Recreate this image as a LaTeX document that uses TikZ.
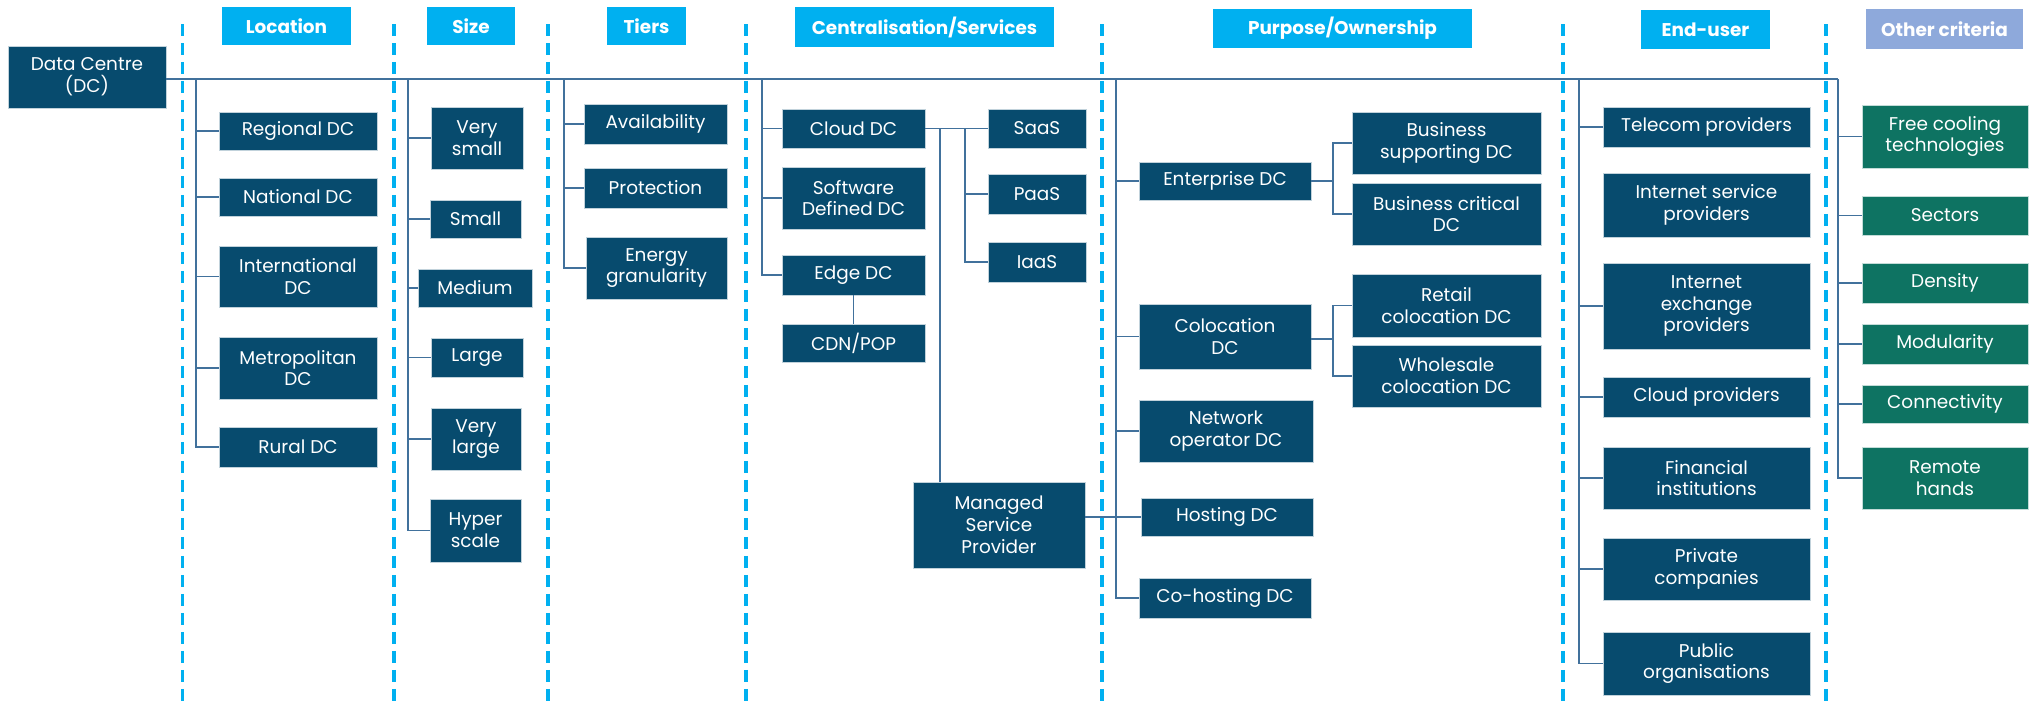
\documentclass[tikz,border=0pt]{standalone}
\usepackage{fontspec}
\setmainfont{Poppins}
\usepackage{tikz}
\usetikzlibrary{positioning}
\usetikzlibrary{calc}
\definecolor{dcblue}{HTML}{074B6E}
\definecolor{dcgreen}{HTML}{0E7362}
\definecolor{hdrblue}{HTML}{00B0F0}
\definecolor{hdrlilac}{HTML}{8EA9DB}
\definecolor{linkcol}{HTML}{41719C}
\tikzstyle{box}=[rectangle,fill=dcblue,draw=white!75!dcblue,line width=0.4pt,text=white,align=center,inner sep=0pt,font=\fontsize{10.5}{12.4}\selectfont]
\tikzstyle{greenbox}=[box,fill=dcgreen,draw=white!75!dcgreen]
\tikzstyle{hdr}=[rectangle,fill=hdrblue,text=white,inner sep=0pt,font=\fontsize{10.5}{12.4}\selectfont\bfseries]
\tikzstyle{link}=[draw=linkcol,line width=0.8pt]
\tikzstyle{divider}=[draw=hdrblue,line width=2.2pt,dash pattern=on 0.24cm off 0.14cm]

\begin{document}
\begin{tikzpicture}[x=0.02cm,y=-0.02cm]

 \def\u{0.02cm}
 \useasboundingbox (0,0) rectangle (2036,707);

 % root
 \node[box, minimum width=158*\u, minimum height=62*\u] (dc) at (87,77) {Data Centre\\(DC)};

 % column headers
 \foreach \x/\y/\w/\h/\name/\label in {286.5/26/129/38/hloc/Location, 471/26/88/38/hsiz/Size, 646.5/26/79/38/htie/Tiers,
        924.5/27/259/40/hcen/{Centralisation/Services}, 1342.5/28.5/259/39/hpur/{Purpose/Ownership}, 1705.5/29.5/129/39/husr/End-user}
    \node[hdr, minimum width=\w*\u, minimum height=\h*\u] (\name) at (\x,\y) {\label};
 \node[hdr, fill=hdrlilac, minimum width=157*\u, minimum height=40*\u] (hoth) at (1944.5,29) {Other criteria};

 % trunk tops on the main line
 \foreach \x/\name in {196/loc, 408/siz, 564/tie, 762/cen, 1116/pur, 1579/usr, 1838/oth}
    \coordinate (\name) at (\x,79);

 % location
 \foreach \x/\y/\w/\h/\name/\label in {298/131/158/38/reg/Regional DC, 298/197/158/38/nat/National DC,
        298/276.5/158/61/intl/{International\\DC}, 298/368/158/62/met/{Metropolitan\\DC}, 298/447/158/40/rur/Rural DC}
    \node[box, minimum width=\w*\u, minimum height=\h*\u] (\name) at (\x,\y) {\label};

 % size
 \foreach \x/\y/\w/\h/\name/\label in {477/138/92/62/vsm/{Very\\small}, 475.5/219/91/38/sml/Small, 475/288/114/38/med/Medium,
        477/357.5/92/39/lrg/Large, 476/439/90/62/vlg/{Very\\large}, 475.5/530.5/91/63/hyp/{Hyper\\scale}}
    \node[box, minimum width=\w*\u, minimum height=\h*\u] (\name) at (\x,\y) {\label};

 % tiers
 \foreach \x/\y/\w/\h/\name/\label in {655.5/124/143/40/avl/Availability, 655.5/188/143/40/prt/Protection,
        656.5/268/141/62/egr/{Energy\\granularity}}
    \node[box, minimum width=\w*\u, minimum height=\h*\u] (\name) at (\x,\y) {\label};

 % centralisation / services
 \foreach \x/\y/\w/\h/\name/\label in {853.5/128.5/143/39/cloud/Cloud DC, 853.5/198/143/62/sddc/{Software\\Defined DC},
        853.5/275/143/40/edge/Edge DC, 853.5/343/143/38/cdn/{CDN/POP}, 1037/128.5/98/39/saas/SaaS,
        1037/194/98/40/paas/PaaS, 1037/262/98/40/iaas/IaaS, 999/525/172/86/msp/{Managed\\Service\\Provider}}
    \node[box, minimum width=\w*\u, minimum height=\h*\u] (\name) at (\x,\y) {\label};

 % purpose / ownership
 \foreach \x/\y/\w/\h/\name/\label in {1225/181/172/38/ent/Enterprise DC, 1225/336.5/172/65/colo/{Colocation\\DC},
        1226/431/174/62/netop/{Network\\operator DC}, 1227/517/172/38/host/Hosting DC, 1225/598/172/40/cohost/Co-hosting DC,
        1446.5/143/189/62/bsup/{Business\\supporting DC}, 1446.5/214/189/62/bcrit/{Business critical\\DC},
        1446.5/305.5/189/63/retail/{Retail\\colocation DC}, 1446.5/376/189/62/whole/{Wholesale\\colocation DC}}
    \node[box, minimum width=\w*\u, minimum height=\h*\u] (\name) at (\x,\y) {\label};

 % end-user
 \foreach \x/\y/\w/\h/\name/\label in {1706.5/127/207/40/tel/Telecom providers, 1706.5/205/207/64/isp/{Internet service\\providers},
        1706.5/306/207/86/ixp/{Internet\\exchange\\providers}, 1706.5/397/207/40/cld/Cloud providers,
        1706.5/478/207/62/fin/{Financial\\institutions}, 1706.5/569/207/62/priv/{Private\\companies},
        1706.5/663.5/207/63/pub/{Public\\organisations}}
    \node[box, minimum width=\w*\u, minimum height=\h*\u] (\name) at (\x,\y) {\label};

 % other criteria
 \foreach \x/\y/\w/\h/\name/\label in {1945/136.5/166/63/fct/{Free cooling\\technologies}, 1945/215.5/166/39/sec/Sectors,
        1945/283/166/40/den/Density, 1945/344/166/40/mod/Modularity, 1945/404/166/38/con/Connectivity,
        1945/478/166/62/rem/{Remote\\hands}}
    \node[greenbox, minimum width=\w*\u, minimum height=\h*\u] (\name) at (\x,\y) {\label};

 % main line
 \draw[link] (dc.east |- oth) -- (oth);

 \foreach \dest in {reg,nat,intl,met,rur}
    \draw[link] (loc) |- (\dest.west);
 \foreach \dest in {vsm,sml,med,lrg,vlg,hyp}
    \draw[link] (siz) |- (\dest.west);
 \foreach \dest in {avl,prt,egr}
    \draw[link] (tie) |- (\dest.west);
 \foreach \dest in {cloud,sddc,edge}
    \draw[link] (cen) |- (\dest.west);
 \foreach \dest in {ent,colo,netop,host,cohost}
    \draw[link] (pur) |- (\dest.west);
 \foreach \dest in {tel,ixp,cld,fin,priv,pub}
    \draw[link] (usr) |- (\dest.west);
 \foreach \dest in {fct,sec,den,mod,con,rem}
    \draw[link] (oth) |- (\dest.west);

 % services and managed provider
 \coordinate (svc) at (965,128.5);
 \coordinate (mspj) at (940,128.5);
 \draw[link] (cloud.east) -- (saas.west);
 \foreach \dest in {paas,iaas}
    \draw[link] (svc) |- (\dest.west);
 \draw[link] (mspj) -- (mspj |- msp.north);
 \draw[link] (edge.south) -- (cdn.north);
 \draw[link] (msp.east |- host.west) -- (host.west);

 % enterprise / colocation sub-branches
 \coordinate (entj) at (1333,181);
 \coordinate (coloj) at (1333,339);
 \draw[link] (ent.east) -- (entj);
 \draw[link] (colo.east |- coloj) -- (coloj);
 \foreach \source/\dest in {entj/bsup, entj/bcrit, coloj/retail, coloj/whole}
    \draw[link] (\source) |- (\dest.west);

 % dashed dividers
 \foreach \x in {182.5,394,548,746,1102,1563,1826}
    \draw[divider] (\x,24) -- (\x,707);

\end{tikzpicture}
\end{document}
